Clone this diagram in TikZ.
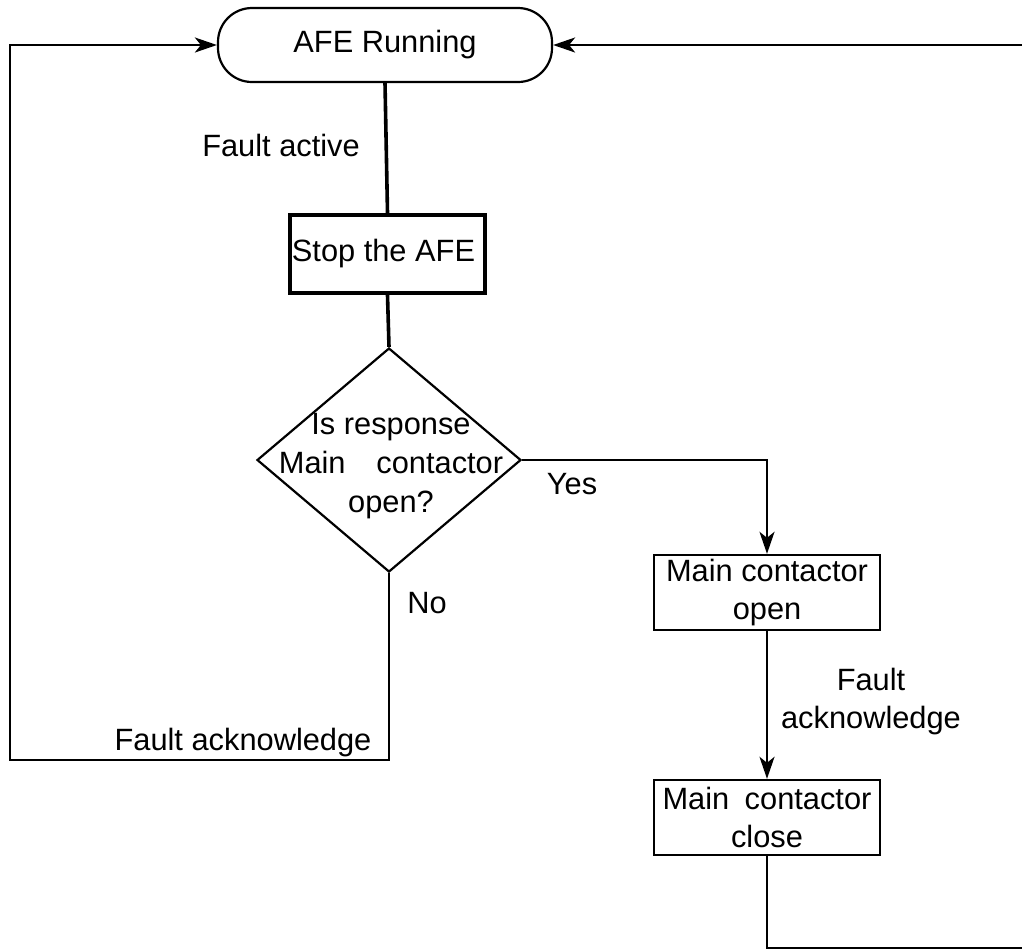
\documentclass[tikz,border=0pt]{standalone}
\usepackage{fontspec}
\setmainfont{Liberation Sans}
\usetikzlibrary{arrows.meta,shapes.geometric}

\begin{document}
\begin{tikzpicture}[x=0.5pt,y=-0.5pt,>={Stealth[length=11pt,width=7.5pt,inset=3pt]},
    font=\fontsize{15.4}{19}\selectfont,
    flow/.style={line width=1.2pt},
    trunk/.style={line width=1.8pt},
    procbox/.style={draw,line width=1.2pt,minimum width=113pt,minimum height=37.5pt,inner sep=1pt,align=center},
    decision/.style={draw,diamond,line width=1.1pt,minimum width=132pt,minimum height=112pt,inner sep=0pt}]
    \clip (0,0) rectangle (1022,950);
    % states and blocks
    \node[draw,line width=1.1pt,rounded corners=17pt,minimum width=167pt,minimum height=37pt] (run) at (385,45) {AFE Running};
    \node[procbox,line width=2.1pt,minimum width=95.5pt,minimum height=39pt] (stop) at (387.5,254) {\raisebox{3pt}{Stop the AFE\hspace{4pt}}};
    \node[decision] (dec) at (389,460) {};
    \node[align=center,font=\fontsize{15.4}{19.5}\selectfont] (dectxt) at (391,466) {Is response\\Main\hspace{1em}contactor\\open?};
    \node[procbox] (opn) at (767,592.5) {Main contactor\\open};
    \node[procbox] (cls) at (767,817.5) {Main\hspace{0.5em}contactor\\close};
    % labels
    \node (factive) at (281,145) {Fault active};
    \node (yes) at (572,484) {Yes};
    \node (no) at (427,603) {No};
    \node (ackl) at (243,743) {Fault acknowledge};
    \node[align=center] (ackr) at (871,702) {Fault\\acknowledge};
    % free ends of the loops
    \coordinate (noend) at (389,760);
    \coordinate (lft) at (10,760);
    \coordinate (rgt) at (1030,948);
    % connectors
    \draw[trunk] (run.south) -- (stop.north);
    \draw[trunk] (stop.south) -- (dec.north);
    \draw[flow,->] (dec.east) -| (opn.north);
    \draw[flow,->] (opn.south) -- (cls.north);
    \draw[flow,->] (cls.south) |- (rgt) |- (run.east);
    \draw[flow,->] (dec.south) -- (noend) -- (lft) |- (run.west);
\end{tikzpicture}
\end{document}
